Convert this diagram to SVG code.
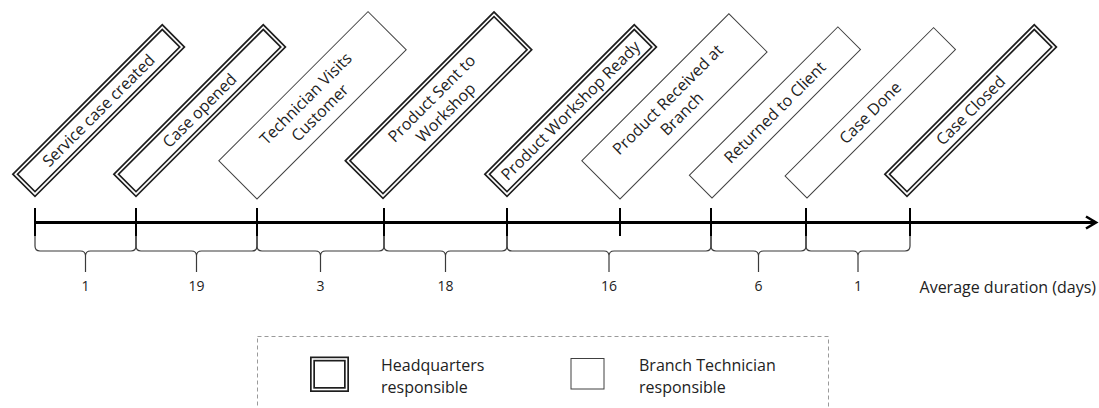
<svg xmlns="http://www.w3.org/2000/svg" width="1099" height="408" viewBox="0 0 1099 408">
<style>
text{font-family:"Open Sans","Liberation Sans",sans-serif;fill:#222}
.lbl{font-size:16px;text-anchor:middle}
.num{font-size:14px;text-anchor:middle}
.leg{font-size:16px}
.dbl-o{fill:#fff;stroke:#1e1e1e;stroke-width:5}
.dbl-i{fill:none;stroke:#fff;stroke-width:1.6}
.sgl{fill:#fff;stroke:#404040;stroke-width:1}
.tick{stroke:#000;stroke-width:2}
.brace{fill:none;stroke:#3a3a3a;stroke-width:1.2}
</style>
<rect width="1099" height="408" fill="#fff"/>

<g id="node-service-case-created" transform="translate(35,194) rotate(-45)">
<rect class="dbl-o" x="0" y="-28" width="208" height="28"/><rect class="dbl-i" x="0" y="-28" width="208" height="28"/>
<text class="lbl" x="104" y="-8.5">Service case created</text>
</g>
<g id="node-case-opened" transform="translate(136,194) rotate(-45)">
<rect class="dbl-o" x="0" y="-28" width="208" height="28"/><rect class="dbl-i" x="0" y="-28" width="208" height="28"/>
<text class="lbl" x="104" y="-8.5">Case opened</text>
</g>
<g id="node-technician-visits" transform="translate(257,199) rotate(-45)">
<rect class="sgl" x="0" y="-54" width="211" height="54"/>
<text class="lbl" x="105.5" y="-31">Technician Visits</text>
<text class="lbl" x="105.5" y="-11">Customer</text>
</g>
<g id="node-product-sent" transform="translate(383,196) rotate(-45)">
<rect class="dbl-o" x="0" y="-50" width="207" height="50"/><rect class="dbl-i" x="0" y="-50" width="207" height="50"/>
<text class="lbl" x="103.5" y="-29">Product Sent to</text>
<text class="lbl" x="103.5" y="-9">Workshop</text>
</g>
<g id="node-product-workshop-ready" transform="translate(507,194) rotate(-45)">
<rect class="dbl-o" x="0" y="-28" width="208" height="28"/><rect class="dbl-i" x="0" y="-28" width="208" height="28"/>
<text class="lbl" x="104" y="-8.5">Product Workshop Ready</text>
</g>
<g id="node-product-received" transform="translate(620,199) rotate(-45)">
<rect class="sgl" x="0" y="-54" width="208" height="54"/>
<text class="lbl" x="104" y="-31">Product Received at</text>
<text class="lbl" x="104" y="-11">Branch</text>
</g>
<g id="node-returned-to-client" transform="translate(712,198) rotate(-45)">
<rect class="sgl" x="0" y="-32" width="210" height="32"/>
<text class="lbl" x="105" y="-10.5">Returned to Client</text>
</g>
<g id="node-case-done" transform="translate(807,198) rotate(-45)">
<rect class="sgl" x="0" y="-31" width="210" height="31"/>
<text class="lbl" x="105" y="-10">Case Done</text>
</g>
<g id="node-case-closed" transform="translate(907,194) rotate(-45)">
<rect class="dbl-o" x="0" y="-28" width="208" height="28"/><rect class="dbl-i" x="0" y="-28" width="208" height="28"/>
<text class="lbl" x="104" y="-8.5">Case Closed</text>
</g>

<g id="connectors">
<line x1="35" y1="222.5" x2="1094" y2="222.5" stroke="#000" stroke-width="3"/>
<polyline points="1086,216.5 1096,222.5 1086,228.5" fill="none" stroke="#000" stroke-width="2.6" stroke-linejoin="miter"/>
<line class="tick" x1="35" y1="208" x2="35" y2="236"/>
<line class="tick" x1="136" y1="208" x2="136" y2="236"/>
<line class="tick" x1="257" y1="208" x2="257" y2="236"/>
<line class="tick" x1="384" y1="208" x2="384" y2="236"/>
<line class="tick" x1="507" y1="208" x2="507" y2="236"/>
<line class="tick" x1="620" y1="208" x2="620" y2="236"/>
<line class="tick" x1="711" y1="208" x2="711" y2="236"/>
<line class="tick" x1="806" y1="208" x2="806" y2="236"/>
<line class="tick" x1="910" y1="208" x2="910" y2="236"/>
</g>

<g id="durations">
<path class="brace" d="M35,236 V246 Q35,251 40,251 H80.5 Q85.5,251 85.5,256 V272 M85.5,256 Q85.5,251 90.5,251 H131 Q136,251 136,246 V236"/>
<path class="brace" d="M136,236 V246 Q136,251 141,251 H191.5 Q196.5,251 196.5,256 V272 M196.5,256 Q196.5,251 201.5,251 H252 Q257,251 257,246 V236"/>
<path class="brace" d="M257,236 V246 Q257,251 262,251 H315.5 Q320.5,251 320.5,256 V272 M320.5,256 Q320.5,251 325.5,251 H379 Q384,251 384,246 V236"/>
<path class="brace" d="M384,236 V246 Q384,251 389,251 H440.5 Q445.5,251 445.5,256 V272 M445.5,256 Q445.5,251 450.5,251 H502 Q507,251 507,246 V236"/>
<path class="brace" d="M507,236 V246 Q507,251 512,251 H604 Q609,251 609,256 V272 M609,256 Q609,251 614,251 H706 Q711,251 711,246 V236"/>
<path class="brace" d="M711,236 V246 Q711,251 716,251 H753.5 Q758.5,251 758.5,256 V272 M758.5,256 Q758.5,251 763.5,251 H801 Q806,251 806,246 V236"/>
<path class="brace" d="M806,236 V246 Q806,251 811,251 H853 Q858,251 858,256 V272 M858,256 Q858,251 863,251 H905 Q910,251 910,246 V236"/>
<text class="num" x="85.5" y="291">1</text>
<text class="num" x="196.5" y="291">19</text>
<text class="num" x="320.5" y="291">3</text>
<text class="num" x="445.5" y="291">18</text>
<text class="num" x="609" y="291">16</text>
<text class="num" x="758.5" y="291">6</text>
<text class="num" x="858" y="291">1</text>
<text class="leg" x="1096" y="293" text-anchor="end">Average duration (days)</text>
</g>

<g id="legend">
<rect x="257.5" y="336.5" width="571" height="90" fill="none" stroke="#9a9a9a" stroke-width="1" stroke-dasharray="4,3"/>
<rect class="dbl-o" x="312.5" y="359" width="34" height="30.5"/><rect class="dbl-i" x="312.5" y="359" width="34" height="30.5"/>
<text class="leg" x="381" y="371">Headquarters</text>
<text class="leg" x="381" y="393">responsible</text>
<rect class="sgl" x="571" y="358.5" width="33" height="30.5"/>
<text class="leg" x="639" y="371">Branch Technician</text>
<text class="leg" x="639" y="393">responsible</text>
</g>
</svg>
